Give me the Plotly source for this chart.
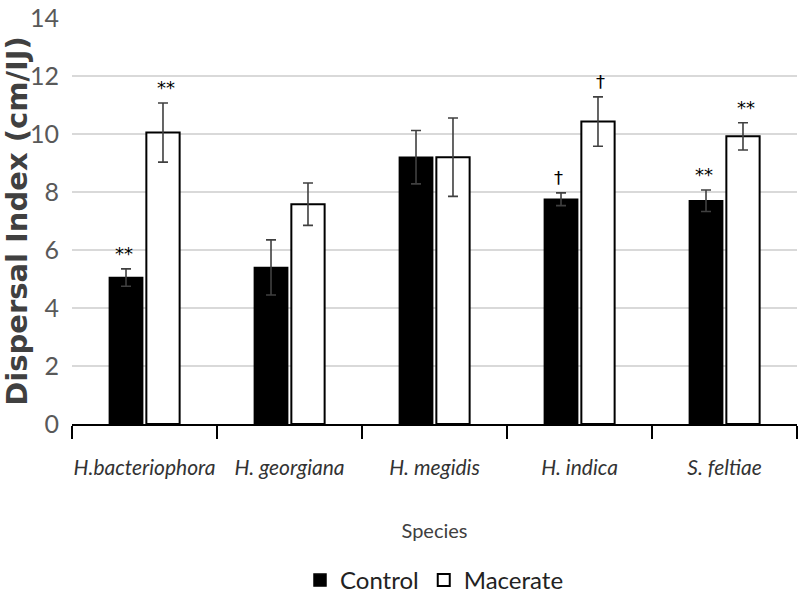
import plotly.graph_objects as go

species = ["H.bacteriophora", "H. georgiana", "H. megidis", "H. indica", "S. feltiae"]
control = [5.05, 5.4, 9.2, 7.75, 7.7]
control_err = [0.3, 0.95, 0.92, 0.22, 0.37]
macerate = [10.05, 7.58, 9.2, 10.43, 9.92]
macerate_err = [1.02, 0.73, 1.35, 0.85, 0.47]
control_marks = ["**", "", "", "†", "**"]
macerate_marks = ["**", "", "", "†", "**"]

FONT = "Lato, sans-serif"
cat_labels = [f"<i>{s}</i>" for s in species]

fig = go.Figure()
fig.add_trace(go.Bar(
    name="Control", x=cat_labels, y=control,
    marker=dict(color="black", line=dict(color="black", width=1.5)),
    error_y=dict(type="data", array=control_err, color="#404040", thickness=1.6, width=5),
))
fig.add_trace(go.Bar(
    name="Macerate", x=cat_labels, y=macerate,
    marker=dict(color="white", line=dict(color="black", width=2)),
    error_y=dict(type="data", array=macerate_err, color="#404040", thickness=1.6, width=5),
))

for i, lab in enumerate(cat_labels):
    if control_marks[i]:
        fig.add_annotation(x=lab, y=control[i] + control_err[i], text=control_marks[i],
                           xshift=-21, yshift=15, showarrow=False,
                           font=dict(size=18, color="#000000", family="DejaVu Sans"))
    if macerate_marks[i]:
        fig.add_annotation(x=lab, y=macerate[i] + macerate_err[i], text=macerate_marks[i],
                           xshift=21, yshift=15, showarrow=False,
                           font=dict(size=18, color="#000000", family="DejaVu Sans"))

fig.update_layout(
    width=800, height=600,
    margin=dict(l=72, r=3, t=18, b=176),
    paper_bgcolor="white", plot_bgcolor="white",
    barmode="group", bargap=0.49, bargroupgap=0.1,
    font=dict(family=FONT, color="#404040"),
    showlegend=True,
    legend=dict(orientation="h", x=0.5, xanchor="center", yref="container", y=0.07, yanchor="top",
                font=dict(size=24, color="#222222", family=FONT)),
    xaxis=dict(
        tickson="boundaries", ticks="outside", ticklen=13, tickcolor="black", tickwidth=1.5,
        showline=True, linecolor="black", linewidth=2, tickangle=0, ticklabelstandoff=24,
        automargin=False,
        tickfont=dict(size=21, color="#333333", family=FONT),
        title=dict(text="Species", font=dict(size=20, color="#404040", family=FONT), standoff=46),
    ),
    yaxis=dict(
        range=[0, 14], dtick=2, showgrid=True, gridcolor="#d9d9d9", gridwidth=1.5,
        zeroline=False, showline=False, ticks="", ticklabelstandoff=12, automargin=False,
        tickfont=dict(size=25, color="#595959", family=FONT),
        title=dict(text="<b>Dispersal Index (cm/IJ)</b>",
                   font=dict(size=29, color="#404040", family="DejaVu Sans"), standoff=8),
    ),
)

fig.write_html("out.html", config={"displayModeBar": False},
               post_script="document.body.style.margin='0px';")
